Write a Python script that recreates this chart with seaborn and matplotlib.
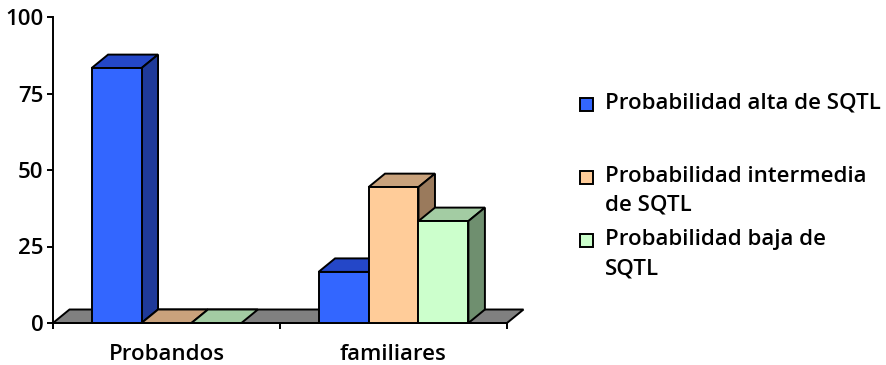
import numpy as np
import pandas as pd
import matplotlib
matplotlib.use("Agg")
import matplotlib.pyplot as plt
from matplotlib.patches import Polygon, Rectangle
from matplotlib.colors import to_hex
import seaborn as sns

# Datos
grupos = ["Probandos", "familiares"]
niveles = ["Probabilidad alta de SQTL",
           "Probabilidad intermedia\nde SQTL",
           "Probabilidad baja de\nSQTL"]
alta = [83.3, 16.7]
intermedia = [0.0, 44.4]
baja = [0.0, 33.3]
yticks = [0, 25, 50, 75, 100]

# Colores: cara frontal, cara superior, cara lateral
frente = ["#3366FF", "#FFCC99", "#CCFFCC"]
techo = ["#2447C8", "#C9A27C", "#A3CCA3"]
lado = ["#1F3A99", "#9A7A5C", "#6F8F6F"]

plt.rcParams["font.family"] = ["Open Sans", "DejaVu Sans"]
plt.rcParams["font.weight"] = "semibold"

filas = []
for nivel, vals in zip(niveles, [alta, intermedia, baja]):
    for g, v in zip(grupos, vals):
        filas.append({"grupo": g, "nivel": nivel, "valor": v})
df = pd.DataFrame(filas)

W, H = 887, 365
LW = 1.4
fig = plt.figure(figsize=(W / 100, H / 100), dpi=100)
ax = fig.add_axes([53 / W, 42 / H, 454 / W, 306 / H])

sns.barplot(data=df, x="grupo", y="valor", hue="nivel", order=grupos,
            hue_order=niveles, palette=frente, saturation=1, width=0.66,
            edgecolor="black", linewidth=LW, errorbar=None, legend=False,
            ax=ax)

ax.set_xlim(-0.5, 1.5)
ax.set_ylim(0, 100)
ax.set_xlabel("")
ax.set_ylabel("")

# Profundidad del efecto 3D (en píxeles convertida a unidades de datos)
bbox = ax.get_window_extent()
ddx = 16.5 * 2.0 / bbox.width
ddy = 13.5 * 100.0 / bbox.height

barras = sorted(list(ax.patches), key=lambda p: p.get_x())

# Suelo gris
suelo = Polygon([(-0.5, 0), (1.5, 0), (1.5 + ddx, ddy), (-0.5 + ddx, ddy)],
                closed=True, fc="#808080", ec="black", lw=LW,
                zorder=1.5, clip_on=False)
ax.add_patch(suelo)

for k, p in enumerate(barras):
    x0 = p.get_x()
    x1 = x0 + p.get_width()
    h = p.get_height()
    idx = [c.lower() for c in frente].index(to_hex(p.get_facecolor()).lower())
    base = 2 + k
    p.set_zorder(base + 0.5)
    p.set_clip_on(False)
    sup = Polygon([(x0, h), (x1, h), (x1 + ddx, h + ddy), (x0 + ddx, h + ddy)],
                  closed=True, fc=techo[idx], ec="black", lw=LW,
                  zorder=base, clip_on=False)
    ax.add_patch(sup)
    if h > 0:
        lat = Polygon([(x1, 0), (x1 + ddx, ddy), (x1 + ddx, h + ddy), (x1, h)],
                      closed=True, fc=lado[idx], ec="black", lw=LW,
                      zorder=base, clip_on=False)
        ax.add_patch(lat)

for s in ["top", "right"]:
    ax.spines[s].set_visible(False)
for s in ["left", "bottom"]:
    ax.spines[s].set_color("black")
    ax.spines[s].set_linewidth(LW)

ax.set_yticks(yticks)
ax.set_yticklabels([str(t) for t in yticks])
ax.tick_params(axis="y", direction="out", length=4, width=LW, pad=3,
               labelsize=16, colors="black")
ax.set_xticks([0, 1])
ax.set_xticklabels(grupos)
ax.set_xticks([-0.5, 0.5, 1.5], minor=True)
ax.tick_params(axis="x", which="major", length=0, pad=15, labelsize=16)
ax.tick_params(axis="x", which="minor", direction="out", length=4, width=LW)

# Leyenda
base_lineas = [[109], [182, 210], [245, 274]]
for color, etiqueta, bases in zip(frente, niveles, base_lineas):
    b0 = bases[0]
    fig.add_artist(Rectangle((580 / W, (H - b0 - 2) / H), 13 / W, 13 / H,
                             transform=fig.transFigure, fc=color,
                             ec="black", lw=LW))
    for linea, b in zip(etiqueta.split("\n"), bases):
        fig.text(605 / W, (H - b) / H, linea, fontsize=16,
                 va="baseline", ha="left", color="black")

fig.savefig("out.png", dpi=100, facecolor="white")
